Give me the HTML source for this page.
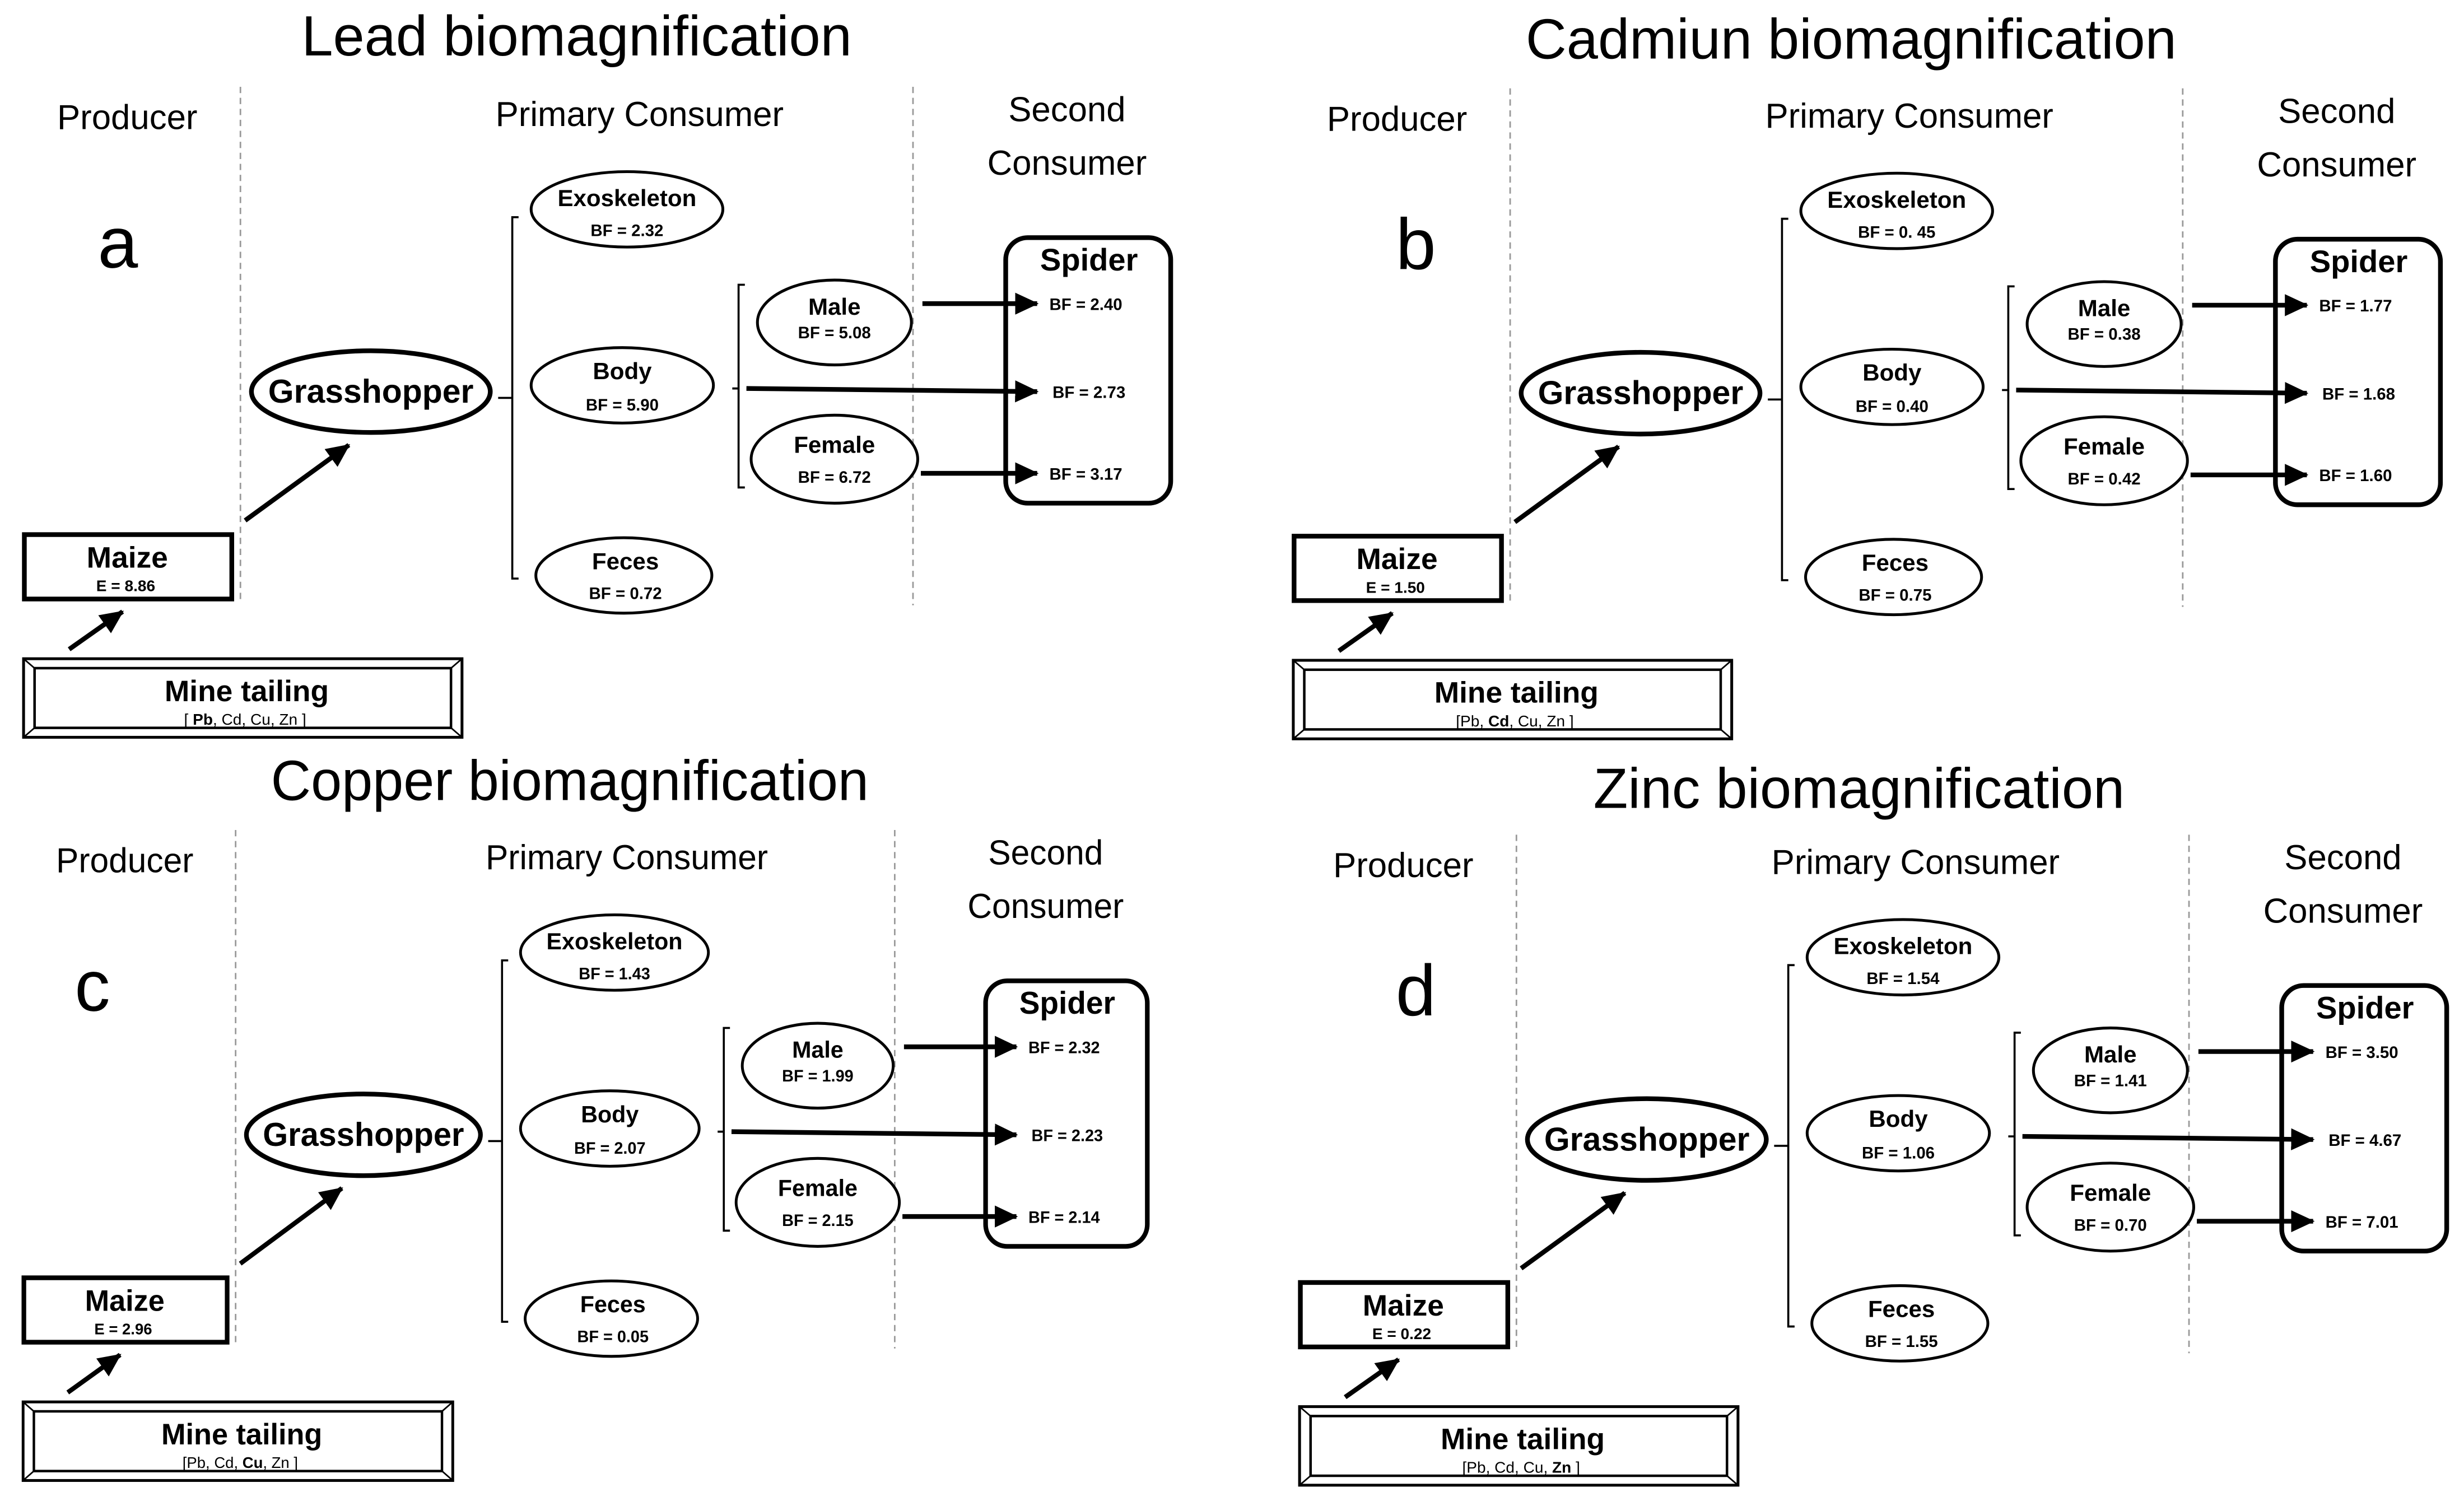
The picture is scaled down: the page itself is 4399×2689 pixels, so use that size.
<!DOCTYPE html>
<html><head><meta charset="utf-8">
<style>
html,body{margin:0;padding:0;background:#fff;}
svg{display:block;}
text{font-family:"Liberation Sans Narrow","Liberation Sans",sans-serif;fill:#000;}
.t{font-size:36px;}
.h{font-size:22px;}
.l{font-size:46px;}
.n{font-size:15px;font-weight:bold;}
.v{font-size:10.5px;font-weight:bold;}
.g{font-size:21px;font-weight:bold;}
.s{font-size:20px;font-weight:bold;}
.m{font-size:19px;font-weight:bold;}
.e{font-size:10px;font-weight:bold;}
.k{font-size:10px;}
.dash{stroke:#999;stroke-width:1;stroke-dasharray:4,3;fill:none;}
.el{fill:#fff;stroke:#000;stroke-width:1.8;}
.br{fill:none;stroke:#000;stroke-width:1.3;}
.ar{stroke:#000;stroke-width:3;fill:none;}
</style></head>
<body>
<svg width="4399" height="2689" viewBox="0 0 1568 958" xmlns="http://www.w3.org/2000/svg" text-anchor="middle">
<defs>
<marker id="ah" markerUnits="userSpaceOnUse" markerWidth="16" markerHeight="16" refX="14" refY="8" orient="auto"><path d="M0,1 L15,8 L0,15 Z" fill="#000"/></marker>
<g id="frame">
<line class="dash" x1="153" y1="55" x2="153" y2="382"/>
<line class="dash" x1="581" y1="55" x2="581" y2="385"/>
<text class="h" x="81" y="82">Producer</text>
<text class="h" x="407" y="80">Primary Consumer</text>
<text class="h" x="679" y="77">Second</text>
<text class="h" x="679" y="111">Consumer</text>
<path class="br" d="M330,138 H326 V368 H330 M317,253 H326"/>
<path class="br" d="M474,181 H470 V310 H474 M466,247 H470"/>
<ellipse class="el" cx="399" cy="133" rx="61" ry="24"/>
<ellipse class="el" cx="396" cy="245" rx="58" ry="24"/>
<ellipse class="el" cx="397" cy="366" rx="56" ry="24"/>
<ellipse class="el" cx="531" cy="205" rx="49" ry="27"/>
<ellipse class="el" cx="531" cy="292" rx="53" ry="28"/>
<ellipse cx="236" cy="249" rx="76" ry="26" fill="#fff" stroke="#000" stroke-width="3"/>
<text class="g" x="236" y="256">Grasshopper</text>
<text class="n" x="399" y="131">Exoskeleton</text>
<text class="n" x="396" y="241">Body</text>
<text class="n" x="398" y="362">Feces</text>
<text class="n" x="531" y="200">Male</text>
<text class="n" x="531" y="288">Female</text>
<line class="ar" x1="156" y1="331" x2="222" y2="283" marker-end="url(#ah)"/>
<line class="ar" x1="44" y1="413" x2="78" y2="389" marker-end="url(#ah)"/>
<rect x="15.5" y="340" width="132" height="41" fill="#fff" stroke="#000" stroke-width="3"/>
<text class="m" x="81" y="361">Maize</text>
<rect x="15" y="419" width="279" height="50" fill="#fff" stroke="#000" stroke-width="1.8"/>
<rect x="22" y="425" width="265" height="38" fill="none" stroke="#000" stroke-width="1.6"/>
<path d="M15,419 L22,425 M294,419 L287,425 M15,469 L22,463 M294,469 L287,463" stroke="#000" stroke-width="1"/>
<text class="m" x="157" y="446">Mine tailing</text>
<rect x="640" y="151" width="105" height="169" rx="14" fill="#fff" stroke="#000" stroke-width="3"/>
<text class="s" x="693" y="172">Spider</text>
<line class="ar" x1="587" y1="193" x2="660" y2="193" marker-end="url(#ah)"/>
<line class="ar" x1="475" y1="247" x2="660" y2="249" marker-end="url(#ah)"/>
<line class="ar" x1="586" y1="301" x2="660" y2="301" marker-end="url(#ah)"/>
</g>
</defs>

<g>
<use href="#frame"/>
<text class="t" x="367" y="35">Lead biomagnification</text>
<text class="l" x="75" y="170">a</text>
<text class="v" x="399" y="150">BF = 2.32</text>
<text class="v" x="396" y="261">BF = 5.90</text>
<text class="v" x="398" y="381">BF = 0.72</text>
<text class="v" x="531" y="215">BF = 5.08</text>
<text class="v" x="531" y="307">BF = 6.72</text>
<text class="v" x="691" y="197">BF = 2.40</text>
<text class="v" x="693" y="253">BF = 2.73</text>
<text class="v" x="691" y="305">BF = 3.17</text>
<text class="e" x="80" y="376">E = 8.86</text>
<text class="k" x="156" y="461">[ <tspan font-weight="bold">Pb</tspan>, Cd, Cu, Zn ]</text>
</g>

<g transform="translate(808,1)">
<use href="#frame"/>
<text class="t" x="370" y="36">Cadmiun biomagnification</text>
<text class="l" x="93" y="170">b</text>
<text class="v" x="399" y="150">BF = 0. 45</text>
<text class="v" x="396" y="261">BF = 0.40</text>
<text class="v" x="398" y="381">BF = 0.75</text>
<text class="v" x="531" y="215">BF = 0.38</text>
<text class="v" x="531" y="307">BF = 0.42</text>
<text class="v" x="691" y="197">BF = 1.77</text>
<text class="v" x="693" y="253">BF = 1.68</text>
<text class="v" x="691" y="305">BF = 1.60</text>
<text class="e" x="80" y="376">E = 1.50</text>
<text class="k" x="156" y="461">[Pb, <tspan font-weight="bold">Cd</tspan>, Cu, Zn ]</text>
</g>

<g transform="translate(0,473) scale(0.98,1)">
<use href="#frame"/>
<text class="t" x="370" y="36">Copper biomagnification</text>
<text class="l" x="60" y="170">c</text>
<text class="v" x="399" y="150">BF = 1.43</text>
<text class="v" x="396" y="261">BF = 2.07</text>
<text class="v" x="398" y="381">BF = 0.05</text>
<text class="v" x="531" y="215">BF = 1.99</text>
<text class="v" x="531" y="307">BF = 2.15</text>
<text class="v" x="691" y="197">BF = 2.32</text>
<text class="v" x="693" y="253">BF = 2.23</text>
<text class="v" x="691" y="305">BF = 2.14</text>
<text class="e" x="80" y="376">E = 2.96</text>
<text class="k" x="156" y="461">[Pb, Cd, <tspan font-weight="bold">Cu</tspan>, Zn ]</text>
</g>

<g transform="translate(812,476)">
<use href="#frame"/>
<text class="t" x="371" y="38">Zinc biomagnification</text>
<text class="l" x="89" y="170">d</text>
<text class="v" x="399" y="150">BF = 1.54</text>
<text class="v" x="396" y="261">BF = 1.06</text>
<text class="v" x="398" y="381">BF = 1.55</text>
<text class="v" x="531" y="215">BF = 1.41</text>
<text class="v" x="531" y="307">BF = 0.70</text>
<text class="v" x="691" y="197">BF = 3.50</text>
<text class="v" x="693" y="253">BF = 4.67</text>
<text class="v" x="691" y="305">BF = 7.01</text>
<text class="e" x="80" y="376">E = 0.22</text>
<text class="k" x="156" y="461">[Pb, Cd, Cu, <tspan font-weight="bold">Zn</tspan> ]</text>
</g>
</svg>
</body></html>
